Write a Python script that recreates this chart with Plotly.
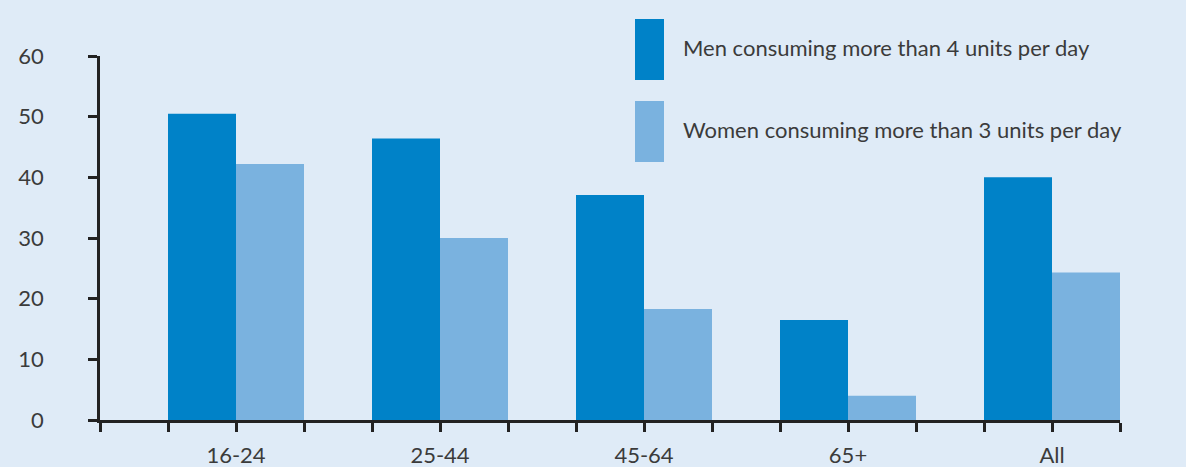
import numpy as np
import plotly.graph_objects as go

# Share of adults drinking above the daily benchmark, by age group (%)
categories = ["16-24", "25-44", "45-64", "65+", "All"]
men_values = [50.5, 46.4, 37.1, 16.5, 40.0]
women_values = [42.2, 30.0, 18.3, 4.0, 24.3]
y_ticks = [0, 10, 20, 30, 40, 50, 60]

men_label = "Men consuming more than 4 units per day"
women_label = "Women consuming more than 3 units per day"

MEN_COLOR = "#0082c8"
WOMEN_COLOR = "#7ab2df"
BG = "#dfebf7"
INK = "#3b3b3b"
AXIS = "#222222"
FONT = "Lato"

pos = np.arange(len(categories))

fig = go.Figure()
fig.add_trace(go.Bar(x=pos, y=men_values, name=men_label,
                     marker=dict(color=MEN_COLOR, line=dict(width=0))))
fig.add_trace(go.Bar(x=pos, y=women_values, name=women_label,
                     marker=dict(color=WOMEN_COLOR, line=dict(width=0))))

# tick marks at every bar edge, i.e. every third of a category slot
edge_ticks = list(np.arange(-2, 3 * len(categories)) / 3.0)

fig.update_layout(
    width=1186, height=467,
    margin=dict(l=100, r=66, t=56, b=47),
    paper_bgcolor=BG, plot_bgcolor=BG,
    barmode="group", bargap=1 / 3, bargroupgap=0,
    showlegend=False,
    font=dict(family=FONT, size=22, color=INK),
    xaxis=dict(
        range=[-2 / 3, len(categories) - 2 / 3],
        tickmode="array", tickvals=list(pos), ticktext=categories,
        ticks="outside", ticklen=9, tickwidth=2.5, tickcolor=AXIS,
        showline=True, linecolor=AXIS, linewidth=2.5,
        showgrid=False, zeroline=False,
        minor=dict(tickmode="array", tickvals=edge_ticks, ticks="outside",
                   ticklen=9, tickwidth=2.5, tickcolor=AXIS, showgrid=False),
        tickfont=dict(family=FONT, size=22, color=INK),
        ticklabelstandoff=5,
        automargin=False,
        fixedrange=True,
    ),
    yaxis=dict(
        range=[0, 60],
        tickmode="array", tickvals=y_ticks,
        ticks="outside", ticklen=9, tickwidth=2.5, tickcolor=AXIS,
        showline=True, linecolor=AXIS, linewidth=2.5,
        showgrid=False, zeroline=False,
        tickfont=dict(family=FONT, size=22, color=INK),
        ticklabelstandoff=40,
        automargin=False,
        fixedrange=True,
    ),
)

# legend drawn as tall swatches with labels beside them
legend_items = [(men_label, MEN_COLOR, 19, 80), (women_label, WOMEN_COLOR, 101, 162)]
H = 467
for label, color, top, bottom in legend_items:
    fig.add_shape(type="rect", xref="paper", yref="paper",
                  x0=(635 - 100) / 1020, x1=(664 - 100) / 1020,
                  y0=(H - 47 - bottom) / (H - 56 - 47), y1=(H - 47 - top) / (H - 56 - 47),
                  fillcolor=color, line=dict(width=0), layer="above")
    fig.add_annotation(xref="paper", yref="paper",
                       x=(681 - 100) / 1020, y=(H - 47 - (top + bottom) / 2 + 2) / (H - 56 - 47),
                       xanchor="left", yanchor="middle", showarrow=False,
                       text=label, font=dict(family=FONT, size=22, color=INK))

fig.write_html("out.html")
